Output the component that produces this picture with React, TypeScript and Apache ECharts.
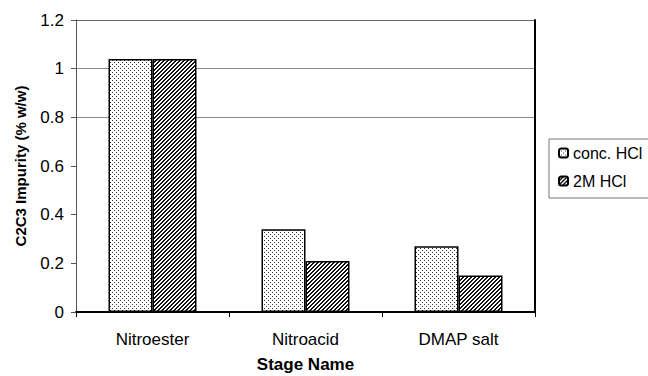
import React, { useEffect, useRef } from "react";
import * as echarts from "echarts";

const stages = ["Nitroester", "Nitroacid", "DMAP salt"];
const concHCl = [1.04, 0.34, 0.27];
const twoMHCl = [1.04, 0.21, 0.15];
const seriesNames = ["conc. HCl", "2M HCl"];

const FONT = "'Liberation Sans', Arial, sans-serif";

// Small repeating tiles for the dotted and hatched bar fills
function dotTile(): string {
  const c = document.createElement("canvas");
  c.width = 4;
  c.height = 4;
  const ctx = c.getContext("2d")!;
  ctx.fillStyle = "#ffffff";
  ctx.fillRect(0, 0, 4, 4);
  ctx.fillStyle = "#333333";
  ctx.fillRect(0, 0, 1, 1);
  ctx.fillRect(2, 2, 1, 1);
  return c.toDataURL();
}

function hatchTile(): string {
  const c = document.createElement("canvas");
  c.width = 4;
  c.height = 4;
  const ctx = c.getContext("2d")!;
  ctx.fillStyle = "#ffffff";
  ctx.fillRect(0, 0, 4, 4);
  ctx.fillStyle = "#111111";
  for (let i = 0; i < 4; i++) {
    ctx.fillRect(i, 3 - i, 1, 1);
    ctx.fillRect((i + 1) % 4, 3 - i, 1, 1);
  }
  return c.toDataURL();
}

export default function App() {
  const ref = useRef<HTMLDivElement>(null);

  useEffect(() => {
    document.body.style.margin = "0";
    if (!ref.current) return;
    const chart = echarts.init(ref.current, null, { renderer: "svg" });
    const dots = { image: dotTile(), repeat: "repeat" };
    const hatch = { image: hatchTile(), repeat: "repeat" };

    chart.setOption({
      animation: false,
      backgroundColor: "#ffffff",
      textStyle: { fontFamily: FONT },
      grid: {
        left: 76,
        top: 20,
        right: 113,
        bottom: 64,
        containLabel: false,
        outerBoundsMode: "none",
      },
      legend: {
        orient: "vertical",
        left: 549,
        top: 139,
        itemWidth: 9,
        itemHeight: 9,
        itemGap: 12,
        padding: [6, 12, 9, 9],
        borderColor: "#777",
        borderWidth: 1,
        textStyle: { fontFamily: FONT, fontSize: 16, color: "#000" },
        data: seriesNames,
      },
      xAxis: {
        type: "category",
        data: stages,
        name: "Stage Name",
        nameLocation: "middle",
        nameGap: 44,
        nameTextStyle: { fontFamily: FONT, fontSize: 17, fontWeight: "bold", color: "#000" },
        axisLine: { lineStyle: { color: "#000", width: 2 } },
        axisTick: { show: true, length: 5, lineStyle: { color: "#000" } },
        axisLabel: { fontFamily: FONT, fontSize: 17, color: "#000", margin: 19 },
      },
      yAxis: [
        {
          type: "value",
          min: 0,
          max: 1.2,
          interval: 0.2,
          name: "C2C3 Impurity (% w/w)",
          nameLocation: "middle",
          nameGap: 48,
          nameTextStyle: { fontFamily: FONT, fontSize: 15, fontWeight: "bold", color: "#000" },
          axisLine: { show: true, lineStyle: { color: "#555", width: 1 } },
          axisTick: { show: true, length: 5, lineStyle: { color: "#555" } },
          axisLabel: { fontFamily: FONT, fontSize: 17, color: "#000", margin: 12 },
          splitLine: {
            show: true,
            lineStyle: {
              color: ["transparent", "transparent", "transparent", "transparent", "#8a8a8a", "#8a8a8a", "#666"],
              width: 1,
            },
          },
        },
        {
          type: "value",
          min: 0,
          max: 1.2,
          interval: 0.2,
          position: "right",
          axisLine: { show: true, lineStyle: { color: "#000", width: 2 } },
          axisTick: { show: false },
          axisLabel: { show: false },
          splitLine: { show: false },
        },
      ],
      series: [
        {
          name: seriesNames[0],
          type: "bar",
          data: concHCl,
          barWidth: 44,
          barGap: "0%",
          itemStyle: { color: dots, borderColor: "#000", borderWidth: 1.5 },
        },
        {
          name: seriesNames[1],
          type: "bar",
          data: twoMHCl,
          barWidth: 44,
          barGap: "0%",
          itemStyle: { color: hatch, borderColor: "#000", borderWidth: 1.5 },
        },
      ],
    });

    return () => chart.dispose();
  }, []);

  return <div ref={ref} style={{ width: 648, height: 376 }} />;
}
